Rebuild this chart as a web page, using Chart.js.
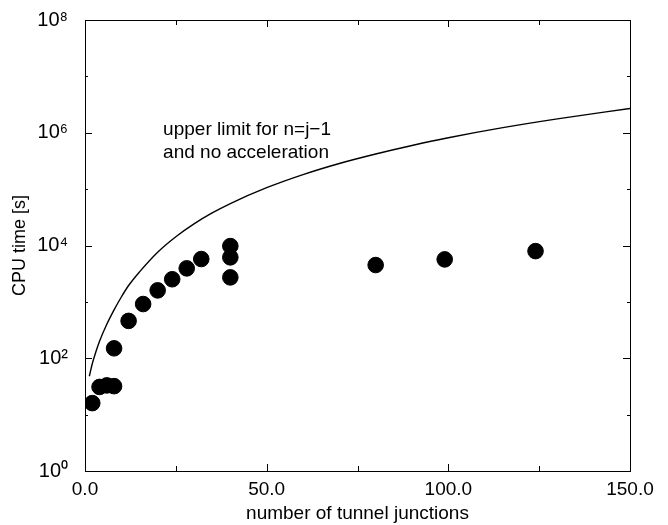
<!DOCTYPE html>
<html>
<head>
<meta charset="utf-8">
<script src="https://cdn.jsdelivr.net/npm/chart.js@4"></script>
<style>
  html, body { margin: 0; padding: 0; background: #fff; }
  #wrap { width: 668px; height: 525px; }
</style>
</head>
<body>
<div id="wrap"><canvas id="cpu"></canvas></div>
<script>
// measured runs (number of junctions vs CPU seconds)
const junctions = [2, 4, 6, 8, 8, 12, 16, 20, 24, 28, 32, 40, 40, 40, 80, 99, 124];
const cpuTime = [16, 31, 33, 32, 150, 460, 915, 1600, 2520, 3930, 5750, 9770, 6160, 2720, 4500, 5670, 7950];

// "upper limit" curve
const limitJunctions = [1.2, 2, 3, 4, 6, 8, 10, 12, 15, 20, 25, 30, 35, 40, 50, 60, 70, 80, 90, 100, 115, 130, 150];
const limitTime = [48, 80, 130, 200, 400, 720, 1220, 1950, 3400, 7600, 14300, 24200, 37800, 55500, 106000, 181000, 285000, 420000, 595000, 815000, 1230000, 1760000, 2700000];

const yDecades = [0, 1, 2, 3, 4, 5, 6, 7, 8];
const xTicks = [0, 25, 50, 75, 100, 125, 150];
const annotation = ['upper limit for n=j\u22121', 'and no acceleration'];

const FONT = '"Liberation Sans", Arial, Helvetica, sans-serif';
const SUP = { '0': '\u2070', '1': '\u00b9', '2': '\u00b2', '3': '\u00b3', '4': '\u2074', '5': '\u2075', '6': '\u2076', '7': '\u2077', '8': '\u2078' };

const pts = junctions.map((x, i) => ({ x, y: cpuTime[i] }));
const limit = limitJunctions.map((x, i) => ({ x, y: limitTime[i] }));

// frame + inward ticks + the text note inside the plot
const framePlugin = {
  id: 'frame',
  afterDraw(chart) {
    const { ctx, chartArea: a, scales } = chart;
    const xs = scales.x, ys = scales.y;
    ctx.save();
    ctx.strokeStyle = '#000';
    ctx.lineWidth = 1;
    ctx.strokeRect(a.left + 0.5, a.top + 0.5, a.right - a.left, a.bottom - a.top);
    ctx.beginPath();
    for (const v of xTicks) {
      const px = Math.round(xs.getPixelForValue(v)) + 0.5;
      const len = v % 50 === 0 ? 7 : 5;
      ctx.moveTo(px, a.bottom); ctx.lineTo(px, a.bottom - len);
      ctx.moveTo(px, a.top); ctx.lineTo(px, a.top + len);
    }
    for (const d of yDecades) {
      const py = Math.round(ys.getPixelForValue(Math.pow(10, d))) + 0.5;
      const len = d % 2 === 0 ? 7 : 3;
      ctx.moveTo(a.left, py); ctx.lineTo(a.left + len, py);
      ctx.moveTo(a.right, py); ctx.lineTo(a.right - len, py);
    }
    ctx.stroke();
    ctx.fillStyle = '#000';
    ctx.font = '19px ' + FONT;
    ctx.textAlign = 'left';
    ctx.textBaseline = 'middle';
    const tx = xs.getPixelForValue(21.5);
    ctx.fillText(annotation[0], tx, ys.getPixelForValue(Math.pow(10, 6.05)));
    ctx.fillText(annotation[1], tx, ys.getPixelForValue(Math.pow(10, 5.64)));
    ctx.restore();
  },
};

new Chart(document.getElementById('cpu'), {
  type: 'scatter',
  data: {
    datasets: [
      {
        label: 'upper limit',
        data: limit,
        showLine: true,
        borderColor: '#000',
        borderWidth: 1.4,
        pointRadius: 0,
        cubicInterpolationMode: 'monotone',
        fill: false,
      },
      {
        label: 'CPU time',
        data: pts,
        backgroundColor: '#000',
        borderColor: '#000',
        pointRadius: 7.8,
        pointHoverRadius: 7.8,
      },
    ],
  },
  options: {
    responsive: true,
    maintainAspectRatio: false,
    animation: false,
    layout: { padding: { top: 20, right: 38, left: 0, bottom: 0 } },
    plugins: { legend: { display: false }, tooltip: { enabled: false } },
    scales: {
      x: {
        type: 'linear',
        min: 0, max: 150,
        afterBuildTicks: (s) => { s.ticks = xTicks.map((v) => ({ value: v })); },
        afterFit: (s) => { s.height = 54; s.paddingLeft = 0; s.paddingRight = 0; },
        ticks: {
          color: '#000',
          font: { family: FONT, size: 19 },
          padding: 7,
          maxRotation: 0,
          autoSkip: false,
          callback: (v) => (v % 50 === 0 ? v.toFixed(1) : ''),
        },
        grid: { display: false, drawTicks: false },
        border: { display: false },
        title: { display: true, text: 'number of tunnel junctions', color: '#000', font: { family: FONT, size: 19 }, padding: { top: 0, bottom: 0 } },
      },
      y: {
        type: 'logarithmic',
        min: 1, max: 1e8,
        afterBuildTicks: (s) => { s.ticks = yDecades.map((d) => ({ value: Math.pow(10, d) })); },
        afterFit: (s) => { s.width = 85; s.paddingTop = 0; s.paddingBottom = 0; },
        ticks: {
          color: '#000',
          font: { family: FONT, size: 20 },
          padding: 17,
          autoSkip: false,
          callback: (v) => {
            const d = Math.round(Math.log10(v));
            return d % 2 === 0 ? '10' + SUP[String(d)] : '';
          },
        },
        grid: { display: false, drawTicks: false },
        border: { display: false },
        title: { display: true, text: 'CPU time [s]', color: '#000', font: { family: FONT, size: 18 }, padding: { top: 9, bottom: 0 } },
      },
    },
  },
  plugins: [framePlugin],
});
</script>
</body>
</html>
